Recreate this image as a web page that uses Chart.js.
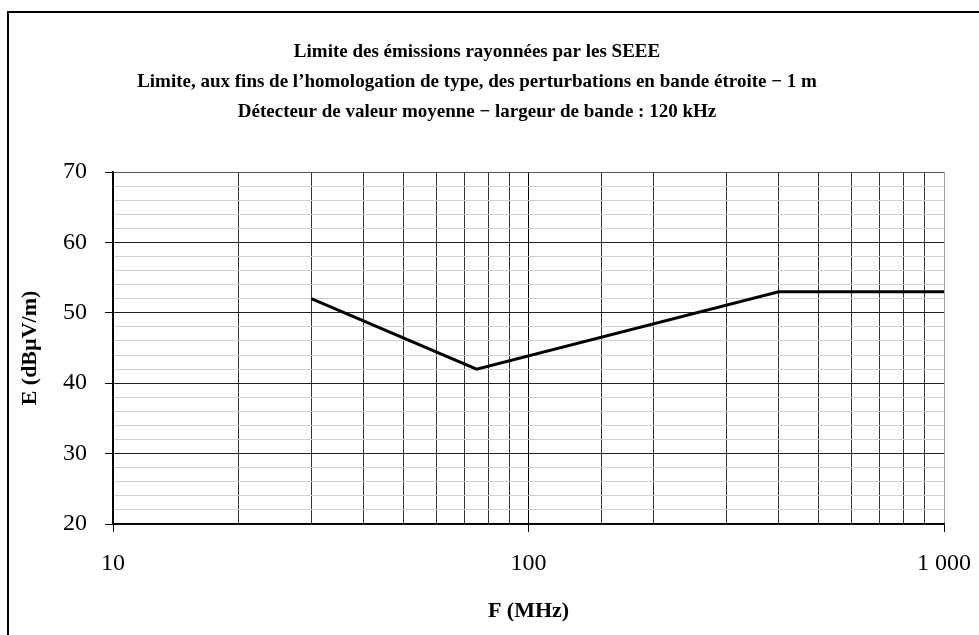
<!DOCTYPE html>
<html>
<head>
<meta charset="utf-8">
<script src="https://cdn.jsdelivr.net/npm/chart.js@4.4.1/dist/chart.umd.min.js"></script>
<style>
  html, body { margin: 0; padding: 0; background: #fff; }
</style>
</head>
<body>
<canvas id="chart" width="979" height="635"></canvas>
<script>
// données
const freqMHz = [30, 75, 400, 1000];
const limitDb = [52, 42, 53, 53];
const titleLines = [
    'Limite des émissions rayonnées par les SEEE',
    'Limite, aux fins de l\u2019homologation de type, des perturbations en bande étroite \u2212 1 m',
    'Détecteur de valeur moyenne \u2212 largeur de bande : 120 kHz'
];
const xTickLabels = { 10: '10', 100: '100', 1000: '1 000' };
const yRange = [20, 70];

const serif = '"Liberation Serif", "Times New Roman", serif';

function isDecade(v) {
    return v === 10 || v === 100 || v === 1000;
}

// cadre noir autour de la figure
const framePlugin = {
    id: 'frame',
    beforeDraw: function (chart) {
        const ctx = chart.ctx;
        ctx.save();
        ctx.fillStyle = '#fff';
        ctx.fillRect(0, 0, chart.width, chart.height);
        ctx.fillStyle = '#000';
        ctx.fillRect(7, 11, chart.width - 7, 2);   // haut
        ctx.fillRect(7, 11, 2, chart.height - 11); // gauche
        ctx.restore();
    }
};

new Chart(document.getElementById('chart'), {
    type: 'line',
    data: {
        datasets: [{
            data: freqMHz.map((f, i) => ({ x: f, y: limitDb[i] })),
            borderColor: '#000',
            borderWidth: 3,
            pointRadius: 0,
            tension: 0,
            fill: false
        }]
    },
    options: {
        responsive: false,
        animation: false,
        events: [],
        layout: { padding: { left: 10, right: 35, top: 0, bottom: 0 } },
        plugins: {
            legend: { display: false },
            tooltip: { enabled: false },
            title: {
                display: true,
                text: titleLines,
                color: '#000',
                font: { family: serif, size: 19, weight: 'bold', lineHeight: 30 / 19 },
                padding: { top: 37, bottom: 45 }
            }
        },
        scales: {
            x: {
                type: 'logarithmic',
                min: 10,
                max: 1000,
                afterFit: function (scale) {
                    scale.height = 111;
                    scale.paddingLeft = 0;
                    scale.paddingRight = 0;
                },
                ticks: {
                    autoSkip: false,
                    maxRotation: 0,
                    padding: 17,
                    color: '#000',
                    font: { family: serif, size: 24 },
                    callback: function (v) { return xTickLabels[v] || ''; }
                },
                grid: {
                    color: function (c) {
                        const v = c.tick.value;
                        if (v === 1000) return '#a0a0a0';
                        return isDecade(v) ? '#000' : '#333';
                    },
                    lineWidth: 1,
                    tickLength: 8,
                    tickColor: function (c) { return isDecade(c.tick.value) ? '#000' : 'rgba(0,0,0,0)'; }
                },
                border: { display: true, color: '#000', width: 1.5 },
                title: {
                    display: true,
                    text: 'F (MHz)',
                    color: '#000',
                    font: { family: serif, size: 22, weight: 'bold' },
                    padding: { top: 0, bottom: 10 }
                }
            },
            y: {
                min: yRange[0],
                max: yRange[1],
                afterFit: function (scale) { scale.width = 103; },
                ticks: {
                    stepSize: 2,
                    autoSkip: false,
                    padding: 18,
                    color: '#000',
                    font: { family: serif, size: 24 },
                    callback: function (v) { return v % 10 === 0 ? String(v) : ''; }
                },
                grid: {
                    color: function (c) {
                        const v = c.tick.value;
                        if (v % 10 !== 0) return '#cfcfcf';
                        return v === 70 ? '#555' : '#222';
                    },
                    lineWidth: 1,
                    tickLength: 8,
                    tickColor: function (c) { return c.tick.value % 10 === 0 ? '#000' : 'rgba(0,0,0,0)'; }
                },
                border: { display: true, color: '#000', width: 1.5 },
                title: {
                    display: true,
                    text: 'E (dB\u00b5V/m)',
                    color: '#000',
                    font: { family: serif, size: 22, weight: 'bold' },
                    padding: { top: 7, bottom: 0 }
                }
            }
        }
    },
    plugins: [framePlugin]
});
</script>
</body>
</html>
